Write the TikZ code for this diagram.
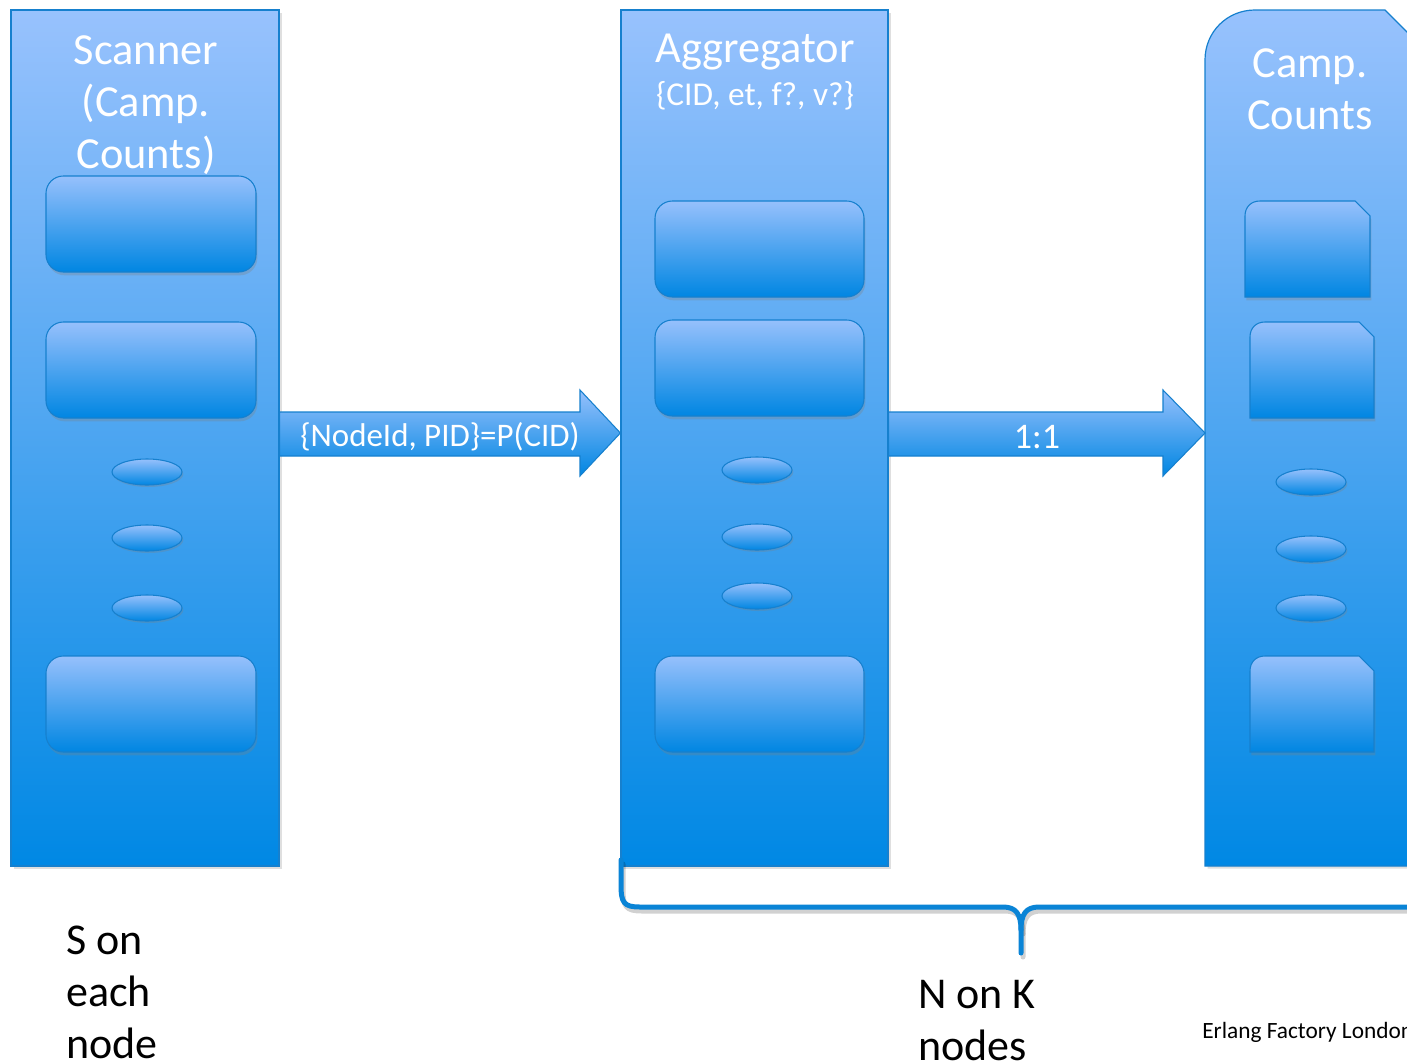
\documentclass[tikz,border=0pt]{standalone}
\usepackage{fontspec}
\setmainfont{Carlito}
\usetikzlibrary{shadows,calc,shapes.geometric}
\definecolor{ctop}{RGB}{152,194,253}
\definecolor{cbot}{RGB}{0,136,228}
\definecolor{cedge}{RGB}{22,128,206}
\definecolor{btop}{RGB}{150,192,252}
\definecolor{bbot}{RGB}{0,134,226}
\definecolor{brace}{RGB}{10,132,214}
\begin{document}
\begin{tikzpicture}[x=0.75pt,y=-0.75pt,
  col/.style={draw=cedge, line width=0.9pt, top color=ctop, bottom color=cbot, inner sep=0pt,
     drop shadow={shadow xshift=2pt, shadow yshift=-2pt, opacity=0.25}},
  ibox/.style={draw=cedge, line width=0.8pt, top color=btop, bottom color=bbot, rounded corners=13pt,
     minimum height=72pt, inner sep=0pt,
     drop shadow={shadow xshift=1pt, shadow yshift=-2.5pt, opacity=0.3}},
  iell/.style={draw=cedge, line width=0.8pt, ellipse, top color=btop, bottom color=bbot,
     minimum width=52.5pt, minimum height=19.5pt, inner sep=0pt,
     drop shadow={shadow xshift=1pt, shadow yshift=-1.5pt, opacity=0.3}},
  ibox3/.style={draw=cedge, line width=0.8pt, top color=btop, bottom color=bbot,
     drop shadow={shadow xshift=1pt, shadow yshift=-2.5pt, opacity=0.3}},
  barrow/.style={draw=cedge, line width=0.8pt, top color=btop, bottom color=bbot},
  head/.style={text=white, font=\fontsize{33.3}{39}\selectfont, align=center, inner sep=0pt},
  sub/.style={text=white, font=\fontsize{25}{28}\selectfont, inner sep=0pt},
  lbl/.style={text=white, font=\fontsize{24.7}{28}\selectfont, inner sep=0pt},
  btxt/.style={text=black, font=\fontsize{33}{39}\selectfont, align=left, anchor=north west, inner sep=0pt},
  ]
\useasboundingbox (0,0) rectangle (1407,1064);
\clip (0,0) rectangle (1407,1064);
\fill[white] (0,0) rectangle (1407,1064);

% columns
\node[col, minimum width=201pt, minimum height=642pt] (scan) at (145,438) {};
\node[col, minimum width=200.25pt, minimum height=642pt] (agg) at (754.5,438) {};
\path[col] (1205,866) -- (1205,60) .. controls (1205,32) and (1227,10) .. (1255,10)
   -- (1385,10) -- (1473,98) -- (1473,866) -- cycle;
\coordinate (camp) at (1205,433);

% column 1 contents
\node[head] (scant) at (146,105) {Scanner\\(Camp.\\Counts)};
\node[ibox, minimum width=157.5pt] (s1) at (151,224) {};
\node[ibox, minimum width=157.5pt] (s2) at (151,370) {};
\node[iell] (se1) at (147,472) {};
\node[iell] (se2) at (147,538) {};
\node[iell] (se3) at (147,608) {};
\node[ibox, minimum width=157.5pt] (s3) at (151,704) {};

% column 2 contents
\node[head] (aggt) at (755,52) {Aggregator};
\node[sub] (aggs) at (755,96) {\{CID, et, f?, v?\}};
\node[ibox, minimum width=156.75pt] (a1) at (759.5,249) {};
\node[ibox, minimum width=156.75pt] (a2) at (759.5,368) {};
\node[iell] (ae1) at (757,470) {};
\node[iell] (ae2) at (757,537) {};
\node[iell] (ae3) at (757,596) {};
\node[ibox, minimum width=156.75pt] (a3) at (759.5,704) {};

% column 3 contents
\node[head] (campt) at (1310,89) {Camp.\\Counts};
\path[ibox3] (1245,297) -- (1245,216) .. controls (1245,207) and (1251,201) .. (1260,201)
   -- (1355,201) -- (1370,216) -- (1370,297) -- cycle;
\path[ibox3] (1250,418) -- (1250,337) .. controls (1250,328) and (1256,322) .. (1265,322)
   -- (1359,322) -- (1374,337) -- (1374,418) -- cycle;
\node[iell] (ce1) at (1311,482) {};
\node[iell] (ce2) at (1311,549) {};
\node[iell] (ce3) at (1311,608) {};
\path[ibox3] (1250,752) -- (1250,671) .. controls (1250,662) and (1256,656) .. (1265,656)
   -- (1359,656) -- (1374,671) -- (1374,752) -- cycle;

% arrows
\path[barrow] (scan.east |- 0,412) -- (580,412) -- (580,390) -- (agg.west |- 0,433)
   -- (580,476) -- (580,456) -- (scan.east |- 0,456) -- cycle;
\node[lbl] (a1l) at (440,437) {\{NodeId, PID\}=P(CID)};
\path[barrow] (agg.east |- 0,412) -- (1163,412) -- (1163,390) -- (camp)
   -- (1163,476) -- (1163,456) -- (agg.east |- 0,456) -- cycle;
\node[lbl, font=\fontsize{27}{30}\selectfont] (a2l) at (1037,437) {1:1};

% brace
\begin{scope}[line width=3.75pt, line cap=round, line join=round]
\draw[black, opacity=0.18, shift={(2,4)}] (621,860) -- (621,885) .. controls (621,903) and (624,907) .. (640,907)
   -- (1003,907) .. controls (1016,907) and (1021,914) .. (1021,930) -- (1021,953);
\draw[black, opacity=0.18, shift={(2,4)}] (1021,930) .. controls (1021,914) and (1026,907) .. (1039,907) -- (1420,907);
\draw[brace] (621,860) -- (621,885) .. controls (621,903) and (624,907) .. (640,907)
   -- (1003,907) .. controls (1016,907) and (1021,914) .. (1021,930) -- (1021,953);
\draw[brace] (1021,930) .. controls (1021,914) and (1026,907) .. (1039,907) -- (1420,907);
\end{scope}

% bottom texts
\node[btxt] (snode) at (66,926) {S on\\each\\node};
\node[btxt] (nnode) at (918,980) {N on K\\nodes};
\node[text=black, font=\fontsize{17.5}{20}\selectfont, anchor=west, inner sep=0pt] (ef) at (1202,1032) {Erlang Factory London};
\end{tikzpicture}
\end{document}
